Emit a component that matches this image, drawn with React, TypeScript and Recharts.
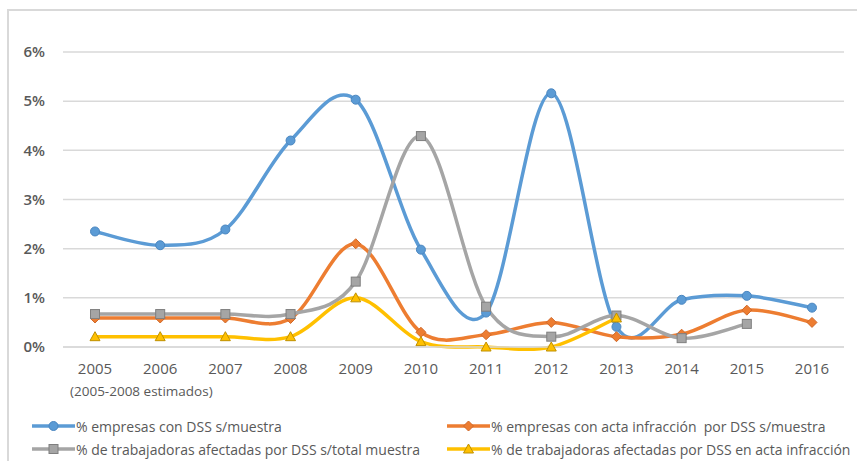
import { CartesianGrid, Line, LineChart, XAxis, YAxis } from "recharts";

const years = ["2005", "2006", "2007", "2008", "2009", "2010", "2011", "2012", "2013", "2014", "2015", "2016"];

// values in fraction (0.01 = 1%)
const empresasDss = [0.0235, 0.0207, 0.0239, 0.042, 0.0503, 0.0198, 0.007, 0.0516, 0.0041, 0.0096, 0.0104, 0.008];
const empresasActa = [0.0059, 0.0059, 0.0059, 0.0058, 0.021, 0.003, 0.0025, 0.005, 0.0021, 0.0026, 0.0075, 0.005];
const trabajadorasTotal = [0.0067, 0.0067, 0.0067, 0.0067, 0.0133, 0.0429, 0.0082, 0.0021, 0.0064, 0.0018, 0.0047, null];
const trabajadorasActa = [0.0021, 0.0021, 0.0021, 0.0021, 0.01, 0.0011, 0.0, 0.0, 0.0059, null, null, null];

const yTicks = [0, 0.01, 0.02, 0.03, 0.04, 0.05, 0.06];

const seriesNames = {
  empresasDss: "% empresas con DSS s/muestra",
  empresasActa: "% empresas con acta infracción  por DSS s/muestra",
  trabajadorasTotal: "% de trabajadoras afectadas por DSS s/total muestra",
  trabajadorasActa: "% de trabajadoras afectadas por DSS en acta infracción",
};

const chartData = years.map((year, i) => ({
  year,
  empresasDss: empresasDss[i],
  empresasActa: empresasActa[i],
  trabajadorasTotal: trabajadorasTotal[i],
  trabajadorasActa: trabajadorasActa[i],
}));

const TEXT = "#595959";
const GRID = "#d9d9d9";

// Excel-style smoothing (cardinal spline, tension 0)
function excelCurve(context: any) {
  let xs: number[] = [];
  let ys: number[] = [];
  return {
    areaStart() {},
    areaEnd() {},
    lineStart() {
      xs = [];
      ys = [];
    },
    point(x: number, y: number) {
      xs.push(+x);
      ys.push(+y);
    },
    lineEnd() {
      const n = xs.length;
      if (!n) return;
      context.moveTo(xs[0], ys[0]);
      for (let i = 0; i < n - 1; i++) {
        const xp = i > 0 ? xs[i - 1] : xs[i];
        const yp = i > 0 ? ys[i - 1] : ys[i];
        const xn = i + 2 < n ? xs[i + 2] : xs[i + 1];
        const yn = i + 2 < n ? ys[i + 2] : ys[i + 1];
        context.bezierCurveTo(
          xs[i] + (xs[i + 1] - xp) / 6,
          ys[i] + (ys[i + 1] - yp) / 6,
          xs[i + 1] - (xn - xs[i]) / 6,
          ys[i + 1] - (yn - ys[i]) / 6,
          xs[i + 1],
          ys[i + 1],
        );
      }
    },
  };
}

type Shape = "circle" | "diamond" | "square" | "triangle";

function Marker({ shape, cx, cy, fill, stroke }: { shape: Shape; cx: number; cy: number; fill: string; stroke: string }) {
  if (shape === "circle") return <circle cx={cx} cy={cy} r={4.5} fill={fill} stroke={stroke} strokeWidth={1} />;
  if (shape === "diamond")
    return <path d={`M${cx},${cy - 5}L${cx + 5},${cy}L${cx},${cy + 5}L${cx - 5},${cy}Z`} fill={fill} stroke={stroke} strokeWidth={1} />;
  if (shape === "square") return <rect x={cx - 4.5} y={cy - 4.5} width={9} height={9} fill={fill} stroke={stroke} strokeWidth={1} />;
  return <path d={`M${cx},${cy - 5}L${cx + 5},${cy + 4}L${cx - 5},${cy + 4}Z`} fill={fill} stroke={stroke} strokeWidth={1} />;
}

function dotRenderer(shape: Shape, fill: string, stroke: string) {
  return (props: any) => {
    const key = `${shape}-${props.index}`;
    if (props.value == null || props.cy == null || Number.isNaN(props.cy)) return <g key={key} />;
    return <Marker key={key} shape={shape} cx={props.cx} cy={props.cy} fill={fill} stroke={stroke} />;
  };
}

const series = [
  { key: "empresasDss", color: "#5b9bd5", edge: "#4a86c0", shape: "circle" as Shape },
  { key: "empresasActa", color: "#ed7d31", edge: "#d0692a", shape: "diamond" as Shape },
  { key: "trabajadorasTotal", color: "#a5a5a5", edge: "#7f7f7f", shape: "square" as Shape },
  { key: "trabajadorasActa", color: "#ffc000", edge: "#bf9000", shape: "triangle" as Shape },
];

function YearTick({ x, y, payload, index }: any) {
  return (
    <g>
      <text x={x} y={y + 19} textAnchor="middle" fill={TEXT} fontSize={15} fontFamily="Open Sans">
        {payload.value}
      </text>
      {index === 0 && (
        <text x={x - 25} y={y + 41} textAnchor="start" fill={TEXT} fontSize={13.5} fontFamily="Open Sans">
          (2005-2008 estimados)
        </text>
      )}
    </g>
  );
}

function LegendItem({ s, left, top }: { s: (typeof series)[number]; left: number; top: number }) {
  return (
    <div style={{ position: "absolute", left, top, display: "flex", alignItems: "center", height: 18 }}>
      <svg width={43} height={14} style={{ display: "block" }}>
        <line x1={0} y1={7} x2={43} y2={7} stroke={s.color} strokeWidth={3.5} />
        <Marker shape={s.shape} cx={21.5} cy={7} fill={s.color} stroke={s.edge} />
      </svg>
      <span style={{ fontSize: 14, color: TEXT, fontFamily: "Open Sans", whiteSpace: "pre", marginLeft: 1 }}>
        {seriesNames[s.key as keyof typeof seriesNames]}
      </span>
    </div>
  );
}

export default function App() {
  return (
    <div style={{ position: "absolute", left: 0, top: 0, width: 857, height: 461, overflow: "hidden", background: "#fff" }}>
      <div
        style={{
          position: "absolute",
          left: 7,
          top: 9,
          width: 900,
          height: 500,
          borderLeft: `2px solid ${GRID}`,
          borderTop: `2px solid ${GRID}`,
        }}
      />
      <LineChart
        width={857}
        height={461}
        data={chartData}
        margin={{ top: 52, right: 13, bottom: 74, left: 8 }}
        style={{ position: "absolute", left: 0, top: 0 }}
      >
        <CartesianGrid stroke={GRID} strokeWidth={1.5} vertical={false} />
        <XAxis
          dataKey="year"
          height={40}
          padding={{ left: 32, right: 32 }}
          axisLine={{ stroke: GRID, strokeWidth: 1.5 }}
          tickLine={false}
          interval={0}
          tick={<YearTick />}
        />
        <YAxis
          width={55}
          domain={[0, 0.06]}
          ticks={yTicks}
          axisLine={false}
          tickLine={false}
          tickFormatter={(v: number) => `${Math.round(v * 100)}%`}
          tick={{ fill: TEXT, fontSize: 15, fontWeight: 600, fontFamily: "Open Sans", dx: -10 }}
        />
        {series.map((s) => (
          <Line
            key={s.key}
            dataKey={s.key}
            type={excelCurve as any}
            stroke={s.color}
            strokeWidth={3.5}
            dot={dotRenderer(s.shape, s.color, s.edge)}
            activeDot={false}
            isAnimationActive={false}
          />
        ))}
      </LineChart>
      <LegendItem s={series[0]} left={32} top={417} />
      <LegendItem s={series[1]} left={447} top={417} />
      <LegendItem s={series[2]} left={32} top={440} />
      <LegendItem s={series[3]} left={447} top={440} />
    </div>
  );
}
